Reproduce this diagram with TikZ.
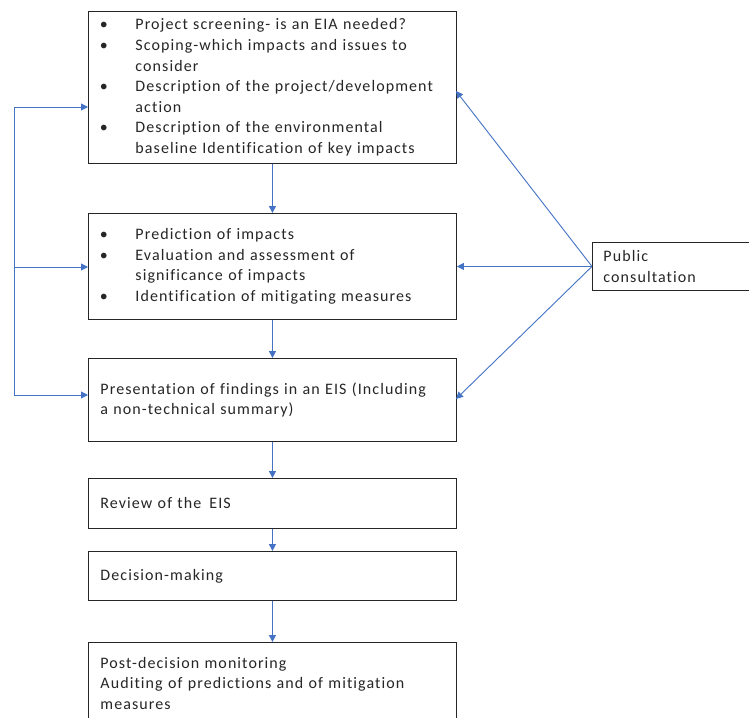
\documentclass[tikz,border=0pt]{standalone}
\usepackage{fontspec}
\setmainfont{Carlito}[LetterSpace=6.8, Ligatures=NoCommon]
\usetikzlibrary{arrows.meta}

% one bulleted line, and one continuation line under a bullet
\newcommand{\bitem}[1]{\makebox[35pt][l]{\hspace{-0.5pt}\textbullet}#1}
\newcommand{\bcont}[1]{\hspace*{35pt}#1}

\begin{document}
\begin{tikzpicture}[x=1pt,y=-1pt,
  stage/.style={draw=black!85, line width=0.9pt, anchor=north west,
    text width=344pt, inner xsep=12pt, inner ysep=0pt, align=left,
    minimum width=368pt,
    font=\fontsize{16}{20.6}\selectfont, text=black!85},
  side/.style={draw=black!85, line width=0.9pt, anchor=north west,
    text width=150pt, inner xsep=11pt, inner ysep=0pt, align=left,
    minimum height=48pt,
    font=\fontsize{16}{20.6}\selectfont, text=black!85},
  link/.style={color={rgb,255:red,68;green,114;blue,196}, line width=0.9pt},
  flow/.style={link, -{Triangle[length=7pt,width=7pt]}}]

\useasboundingbox (0,0) rectangle (749,717);
\clip (0,0) rectangle (749,717);
\fill[white] (0,0) rectangle (749,717);

% main sequence of stages
\node[stage, minimum height=152pt] (b1) at (88,11) {%
  \bitem{Project screening- is an EIA needed?}\\
  \bitem{Scoping-which impacts and issues to}\\
  \bcont{consider}\\
  \bitem{Description of the project/development}\\
  \bcont{action}\\
  \bitem{Description of the environmental}\\
  \bcont{baseline Identification of key impacts}};

\node[stage, minimum height=106pt] (b2) at (88,213) {%
  \bitem{Prediction of impacts}\\
  \bitem{Evaluation and assessment of}\\
  \bcont{significance of impacts}\\
  \bitem{Identification of mitigating measures}};

\node[stage, minimum height=83pt] (b3) at (88,358) {%
  Presentation of findings in an EIS (Including\\
  a non-technical summary)};

\node[stage, minimum height=50pt] (b4) at (88,478) {Review of the\, EIS};

\node[stage, minimum height=49pt] (b5) at (88,551) {Decision-making};

\node[stage, minimum height=82pt] (b6) at (88,642) {%
  Post-decision monitoring\\
  Auditing of predictions and of mitigation\\
  measures};

% consultation box on the right
\node[side] (pc) at (592,242) {Public\\consultation};

% downward flow between stages
\draw[flow] (b1.south) -- (b2.north);
\draw[flow] (b2.south) -- (b3.north);
\draw[flow] (b3.south) -- (b4.north);
\draw[flow] (b4.south) -- (b5.north);
\draw[flow] (b5.south) -- (b6.north);

% feedback loop along the left side
\coordinate (l1) at (14,107);
\coordinate (l2) at (14,267);
\coordinate (l3) at (14,395);
\draw[link] (l1) -- (l3);
\draw[flow] (l1) -- (b1.west |- l1);
\draw[flow] (l2) -- (b2.west |- l2);
\draw[flow] (l3) -- (b3.west |- l3);

% consultation feeding the first three stages
\coordinate (p1) at (456,91);
\coordinate (p3) at (456,399);
\draw[flow] (pc.west) -- (p1);
\draw[flow] (pc.west) -- (b2.east |- pc.west);
\draw[flow] (pc.west) -- (p3);
\end{tikzpicture}
\end{document}
